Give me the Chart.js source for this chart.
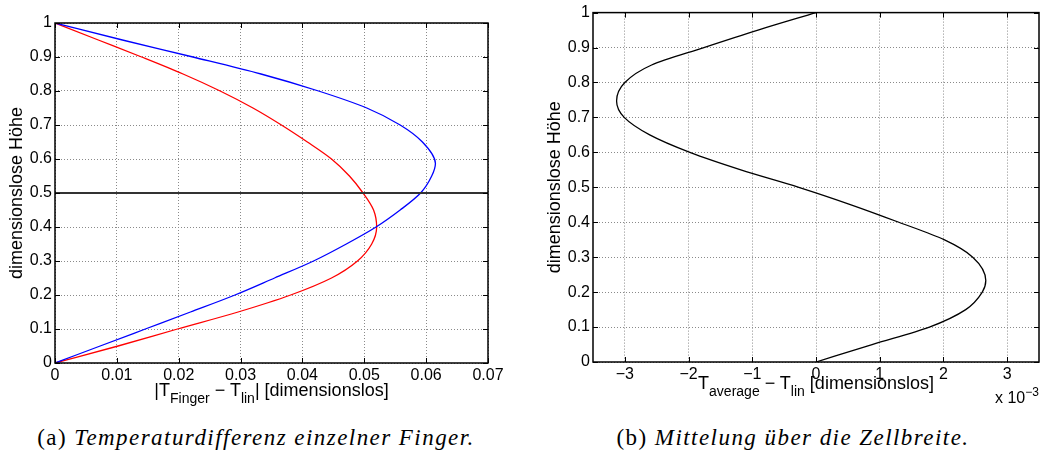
<!DOCTYPE html>
<html lang="de">
<head>
<meta charset="UTF-8">
<script src="https://cdn.jsdelivr.net/npm/chart.js"></script>
<title>Temperaturdifferenz</title>
<style>
  body {
    margin: 0;
    width: 1043px;
    height: 456px;
    position: relative;
    overflow: hidden;
    background: #fff;
    font-family: "Liberation Sans", Arial, sans-serif;
    color: #000;
  }
  canvas { position: absolute; top: 0; }
  #chartA { left: 0; }
  #chartB { left: 520px; }
  .xtitle {
    position: absolute;
    font-size: 18px;
    line-height: 18px;
    white-space: nowrap;
    transform: translateX(-50%);
  }
  .xtitle sub { font-size: 14px; line-height: 0; vertical-align: -7px; }
  .exp { position: absolute; left: 995px; top: 390px; font-size: 16px; line-height: 16px; white-space: nowrap; }
  .exp sup { font-size: 12px; line-height: 0; vertical-align: 7px; }
  .caption {
    position: absolute;
    font-family: "Liberation Serif", serif;
    font-size: 23px;
    line-height: 23px;
    letter-spacing: 1.45px;
    white-space: nowrap;
    transform: translateX(-50%);
  }
</style>
</head>
<body>
<canvas id="chartA" width="520" height="412"></canvas>
<canvas id="chartB" width="523" height="412"></canvas>

<div class="xtitle" style="left:271.5px; top:381px;">|T<sub>Finger</sub> &minus; T<sub>lin</sub>| [dimensionslos]</div>
<div class="xtitle" style="left:816px; top:374px;">T<sub>average</sub> &minus; T<sub>lin</sub> [dimensionslos]</div>
<div class="exp">x 10<sup>&minus;3</sup></div>

<div class="caption" style="left:256px; top:426px;">(a) <i>Temperaturdifferenz einzelner Finger.</i></div>
<div class="caption" style="left:793px; top:426px;">(b) <i>Mittelung über die Zellbreite.</i></div>

<script>
// |T_Finger - T_lin| against dimensionless height, two fingers
const blueHeights = [0, 0.05, 0.1, 0.15, 0.2, 0.25, 0.3, 0.35, 0.4, 0.45, 0.5,
                     0.55, 0.587, 0.65, 0.7, 0.75, 0.8, 0.85, 0.9, 0.95, 1];
const fingerBlue = [0, 0.0073, 0.0146, 0.0219, 0.0291, 0.0355, 0.0418, 0.0471, 0.0519, 0.0558, 0.0591,
                    0.0609, 0.0615, 0.0594, 0.0558, 0.0504, 0.0426, 0.0333, 0.0223, 0.0109, 0];

const redHeights = [0, 0.05, 0.1, 0.15, 0.2, 0.25, 0.3, 0.35, 0.4, 0.45, 0.5,
                    0.55, 0.6, 0.65, 0.7, 0.75, 0.8, 0.85, 0.9, 0.95, 1];
const fingerRed = [0, 0.0102, 0.0198, 0.0296, 0.0381, 0.0447, 0.0489, 0.0512, 0.0520, 0.0515, 0.0498,
                   0.0476, 0.0447, 0.0408, 0.0366, 0.0320, 0.0267, 0.0207, 0.0140, 0.0070, 0];

// horizontal reference line at mid height
const midLineX = [0, 0.07];
const midLineY = [0.5, 0.5];

// T_average - T_lin, in units of 1e-3
const avgHeights = [0, 0.05, 0.1, 0.15, 0.2, 0.233, 0.3, 0.35, 0.4, 0.45, 0.5,
                    0.55, 0.6, 0.65, 0.7, 0.747, 0.8, 0.85, 0.9, 0.95, 1];
const averageDiff = [0, 0.88, 1.78, 2.35, 2.61, 2.665, 2.46, 2.01, 1.30, 0.55, -0.27,
                     -1.18, -1.98, -2.61, -3.01, -3.13, -3.00, -2.58, -1.76, -0.91, 0];

const yTicks = [0, 0.1, 0.2, 0.3, 0.4, 0.5, 0.6, 0.7, 0.8, 0.9, 1];
const yTickLabels = ['0', '0.1', '0.2', '0.3', '0.4', '0.5', '0.6', '0.7', '0.8', '0.9', '1'];
const xTicksA = [0, 0.01, 0.02, 0.03, 0.04, 0.05, 0.06, 0.07];
const xTickLabelsA = ['0', '0.01', '0.02', '0.03', '0.04', '0.05', '0.06', '0.07'];
const xTicksB = [-3, -2, -1, 0, 1, 2, 3];
const xTickLabelsB = ['\u22123', '\u22122', '\u22121', '0', '1', '2', '3'];

const tickFont = { family: '"Liberation Sans", Arial, sans-serif', size: 16 };

function points(xs, ys) {
  return xs.map((x, i) => ({ x: x, y: ys[i] }));
}

// matlab-like box with inward tick marks on all four sides
const matlabFrame = {
  id: 'matlabFrame',
  afterDatasetsDraw(chart) {
    const { ctx, chartArea: a, scales } = chart;
    const len = 5;
    ctx.save();
    ctx.strokeStyle = '#000';
    ctx.lineWidth = 1;
    ctx.beginPath();
    scales.x.ticks.forEach(t => {
      const px = Math.round(scales.x.getPixelForValue(t.value)) + 0.5;
      ctx.moveTo(px, a.bottom); ctx.lineTo(px, a.bottom - len);
      ctx.moveTo(px, a.top); ctx.lineTo(px, a.top + len);
    });
    scales.y.ticks.forEach(t => {
      const py = Math.round(scales.y.getPixelForValue(t.value)) + 0.5;
      ctx.moveTo(a.left, py); ctx.lineTo(a.left + len, py);
      ctx.moveTo(a.right, py); ctx.lineTo(a.right - len, py);
    });
    ctx.stroke();
    ctx.lineWidth = 1.5;
    ctx.strokeRect(a.left, a.top, a.right - a.left, a.bottom - a.top);
    ctx.restore();
  }
};

function makeOptions(o) {
  return {
    responsive: false,
    animation: false,
    devicePixelRatio: 1,
    indexAxis: 'y',
    layout: { padding: { top: o.top, right: o.right, left: 0, bottom: 0 } },
    plugins: { legend: { display: false }, tooltip: { enabled: false } },
    scales: {
      x: {
        type: 'linear',
        min: o.xMin,
        max: o.xMax,
        afterBuildTicks: s => { s.ticks = o.xTicks.map(v => ({ value: v })); },
        afterFit: s => { s.height = o.xHeight; },
        ticks: {
          color: '#000',
          font: tickFont,
          padding: 3,
          maxRotation: 0,
          autoSkip: false,
          callback: (v, i) => o.xLabels[i]
        },
        grid: { color: '#8a8a8a', lineWidth: 1, drawTicks: false },
        border: { display: false, dash: [1, 2] }
      },
      y: {
        type: 'linear',
        min: 0,
        max: 1,
        afterBuildTicks: s => { s.ticks = yTicks.map(v => ({ value: v })); },
        afterFit: s => { s.width = o.yWidth; },
        ticks: {
          color: '#000',
          font: tickFont,
          padding: 3,
          autoSkip: false,
          callback: (v, i) => yTickLabels[i]
        },
        grid: { color: '#8a8a8a', lineWidth: 1, drawTicks: false },
        border: { display: false, dash: [1, 2] },
        title: {
          display: true,
          text: 'dimensionslose Höhe',
          color: '#000',
          font: { family: '"Liberation Sans", Arial, sans-serif', size: 18 },
          padding: { top: o.titlePad, bottom: 0 }
        }
      }
    }
  };
}

// smooth curves, monotone along the height axis
const curveStyle = { pointRadius: 0, borderWidth: 1.3, cubicInterpolationMode: 'monotone', fill: false };

new Chart(document.getElementById('chartA'), {
  type: 'line',
  data: {
    datasets: [
      { data: points(midLineX, midLineY), borderColor: '#333', borderWidth: 1.8, pointRadius: 0, tension: 0 },
      Object.assign({ data: points(fingerBlue, blueHeights), borderColor: '#0000ff' }, curveStyle),
      Object.assign({ data: points(fingerRed, redHeights), borderColor: '#ff0000' }, curveStyle)
    ]
  },
  options: makeOptions({
    top: 23, right: 32, xHeight: 49, yWidth: 55, titlePad: 6,
    xMin: 0, xMax: 0.07, xTicks: xTicksA, xLabels: xTickLabelsA
  }),
  plugins: [matlabFrame]
});

new Chart(document.getElementById('chartB'), {
  type: 'line',
  data: {
    datasets: [
      Object.assign({ data: points(averageDiff, avgHeights), borderColor: '#000' }, curveStyle)
    ]
  },
  options: makeOptions({
    top: 11, right: 4, xHeight: 50, yWidth: 73, titlePad: 24,
    xMin: -3.5, xMax: 3.5, xTicks: xTicksB, xLabels: xTickLabelsB
  }),
  plugins: [matlabFrame]
});
</script>
</body>
</html>
